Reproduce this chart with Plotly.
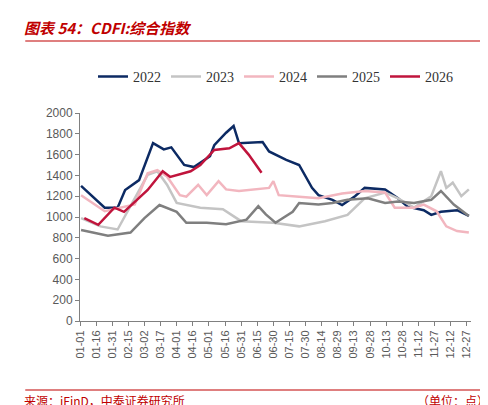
import plotly.graph_objects as go

tick_labels = ["01-01","01-16","01-31","02-15","03-02","03-17","04-01","04-16","05-01","05-16","05-31","06-15",
               "06-30","07-15","07-30","08-14","08-29","09-13","09-28","10-13","10-28","11-12","11-27","12-12","12-27"]
tick_days = [15*i for i in range(len(tick_labels))]

d2022 = [1,23,35,42,55,68,78,85,97,106,121,125,136,143,148,170,176,192,204,216,222,235,244,256,265,284,296,305,320,327,336,351,362]
v2022 = [1300,1090,1090,1260,1355,1710,1650,1670,1500,1480,1585,1690,1810,1875,1710,1720,1630,1550,1500,1280,1210,1165,1115,1200,1280,1265,1180,1100,1065,1020,1050,1065,1010]

d2023 = [1,19,35,63,72,81,90,104,112,133,150,180,204,228,249,265,284,296,311,327,336,341,347,355,362]
v2023 = [990,910,880,1405,1440,1310,1135,1105,1090,1075,960,945,910,960,1020,1180,1235,1180,1090,1200,1440,1280,1330,1200,1265]

d2024 = [1,10,23,51,63,72,81,93,99,110,118,129,136,148,161,176,180,185,204,222,244,265,284,293,311,320,332,341,351,362]
v2024 = [1210,1150,1055,1120,1420,1450,1390,1210,1195,1310,1210,1345,1265,1250,1265,1280,1345,1210,1195,1180,1225,1250,1235,1090,1090,1120,1055,910,865,850]

d2025 = [1,26,47,60,74,90,99,118,136,155,166,173,182,198,204,222,235,249,268,284,296,311,327,336,348,362]
v2025 = [875,820,850,990,1115,1050,945,945,930,975,1105,1025,945,1050,1135,1120,1135,1165,1180,1135,1150,1135,1165,1250,1120,1010]

d2026 = [4,17,32,41,63,77,84,103,112,125,139,148,157,169]
v2026 = [990,925,1090,1050,1260,1440,1385,1440,1500,1645,1660,1710,1600,1425]

series = [("2022", d2022, v2022, "#0c2a63"),
          ("2023", d2023, v2023, "#c4c4c4"),
          ("2024", d2024, v2024, "#f2b6bf"),
          ("2025", d2025, v2025, "#7f7f7f"),
          ("2026", d2026, v2026, "#c0143c")]

fig = go.Figure()
for name, d, v, c in series:
    fig.add_trace(go.Scatter(x=d, y=v, name=name, mode="lines",
                             line=dict(color=c, width=2.5)))

ph = 405 - 105 - 92
fig.update_layout(
    width=488, height=405, plot_bgcolor="white", paper_bgcolor="white",
    margin=dict(l=72, r=25, t=105, b=92),
    font=dict(family="Liberation Sans", color="#595959", size=12),
    legend=dict(orientation="h", x=0.5, xanchor="center", yref="container", y=0.83, yanchor="middle",
                font=dict(family="Liberation Serif", size=14, color="#333")),
    showlegend=True,
    xaxis=dict(range=[0, 364], tickmode="array", tickvals=tick_days, ticktext=tick_labels,
               tickangle=-90, tickfont=dict(size=11), showline=True, linecolor="#808080",
               ticks="outside", tickcolor="#808080", ticklen=4, showgrid=False, zeroline=False),
    yaxis=dict(range=[0, 2000], dtick=200, showline=True, linecolor="#808080",
               ticks="outside", tickcolor="#808080", ticklen=4, showgrid=False, zeroline=False,
               tickfont=dict(size=12)),
)

fig.add_annotation(text="<b><i>图表 54：CDFI:综合指数</i></b>", xref="paper", yref="paper",
                   x=-0.148, y=1 + (105 - 20) / ph, xanchor="left", yanchor="middle", showarrow=False,
                   font=dict(family="Noto Sans CJK SC", size=15, color="#c00000"))
fig.add_annotation(text="来源：iFinD，中泰证券研究所", xref="paper", yref="paper", x=-0.148,
                   y=-(392 - 313) / ph, xanchor="left", yanchor="middle", showarrow=False,
                   font=dict(family="Noto Sans CJK SC", size=12, color="#c00000"))
fig.add_annotation(text="（单位：点）", xref="paper", yref="paper", x=1.05, y=-(392 - 313) / ph,
                   xanchor="right", yanchor="middle", showarrow=False,
                   font=dict(family="Noto Sans CJK SC", size=12, color="#c00000"))
fig.add_shape(type="line", xref="paper", yref="paper", x0=-0.14, x1=1.05,
              y0=1 + (105 - 33) / ph, y1=1 + (105 - 33) / ph, line=dict(color="#c00000", width=1.2))
fig.add_shape(type="line", xref="paper", yref="paper", x0=-0.14, x1=1.05,
              y0=-(382 - 313) / ph, y1=-(382 - 313) / ph, line=dict(color="#c00000", width=1.2))
fig.write_html("out.html")
